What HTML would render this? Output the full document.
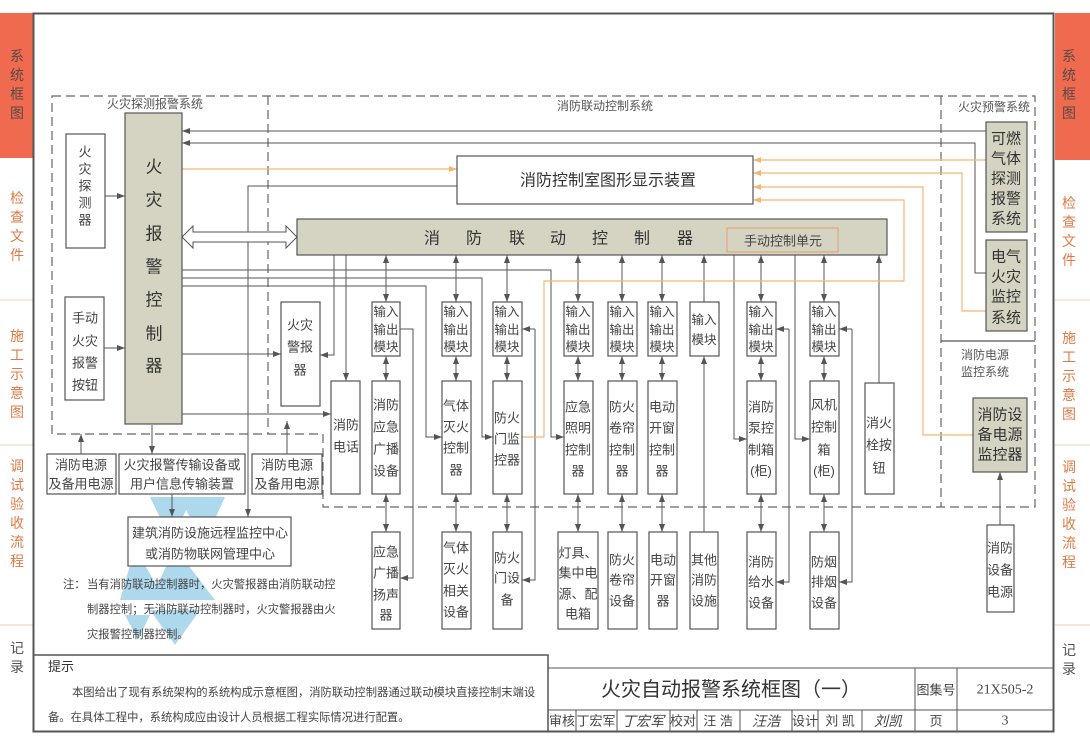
<!DOCTYPE html>
<html><head><meta charset="utf-8"><style>
html,body{margin:0;padding:0;background:#fff;}
svg{display:block;font-family:"Liberation Sans","Noto Sans CJK SC","WenQuanYi Zen Hei",sans-serif;}
.t{font-size:13px;fill:#444;text-anchor:middle;dominant-baseline:central;}
.s{font-size:12px;fill:#555;text-anchor:middle;dominant-baseline:central;}
.b{font-size:16px;fill:#333;text-anchor:middle;dominant-baseline:central;}
.tab{font-size:14px;fill:#e07a45;text-anchor:middle;dominant-baseline:central;}
.g{stroke:#555;stroke-width:1;fill:none;}
.o{stroke:#f2b872;stroke-width:1.2;fill:none;}
.d{stroke:#666;stroke-width:1.2;fill:none;stroke-dasharray:9 5;}
.bx{fill:#fff;stroke:#555;stroke-width:1.2;}
.gb{fill:#d5d4c2;stroke:#555;stroke-width:1.2;}
</style></head><body>
<svg width="1090" height="743" viewBox="0 0 1090 743" xmlns="http://www.w3.org/2000/svg">
<defs>
<marker id="a" viewBox="0 0 8 6" refX="8" refY="3" markerWidth="8" markerHeight="6" markerUnits="userSpaceOnUse" orient="auto-start-reverse"><path d="M0,0 L8,3 L0,6 z" fill="#555"/></marker>
<marker id="ao" viewBox="0 0 8 6" refX="8" refY="3" markerWidth="8" markerHeight="6" markerUnits="userSpaceOnUse" orient="auto-start-reverse"><path d="M0,0 L8,3 L0,6 z" fill="#f2b872"/></marker>
</defs>
<!-- side tabs -->
<rect x="0" y="13" width="33" height="145" fill="#ef6a4f"/>
<rect x="1055" y="13" width="35" height="147" fill="#ef6a4f"/>
<g stroke="#f3d2b5" stroke-width="1">
<line x1="0" y1="300" x2="33" y2="300"/><line x1="0" y1="445" x2="33" y2="445"/><line x1="0" y1="625" x2="33" y2="625"/>
<line x1="1055" y1="300" x2="1090" y2="300"/><line x1="1055" y1="445" x2="1090" y2="445"/><line x1="1055" y1="625" x2="1090" y2="625"/>
</g>
<g class="tab">
<text x="17" y="56" style="fill:#5a4a44">系</text><text x="17" y="75" style="fill:#5a4a44">统</text><text x="17" y="94" style="fill:#5a4a44">框</text><text x="17" y="113" style="fill:#5a4a44">图</text>
<text x="17" y="198">检</text><text x="17" y="217">查</text><text x="17" y="236">文</text><text x="17" y="255">件</text>
<text x="17" y="336">施</text><text x="17" y="355">工</text><text x="17" y="374">示</text><text x="17" y="393">意</text><text x="17" y="412">图</text>
<text x="17" y="466">调</text><text x="17" y="485">试</text><text x="17" y="504">验</text><text x="17" y="523">收</text><text x="17" y="542">流</text><text x="17" y="561">程</text>
<text x="17" y="648" style="fill:#555">记</text><text x="17" y="667" style="fill:#555">录</text>
<text x="1069" y="56" style="fill:#5a4a44">系</text><text x="1069" y="75" style="fill:#5a4a44">统</text><text x="1069" y="94" style="fill:#5a4a44">框</text><text x="1069" y="113" style="fill:#5a4a44">图</text>
<text x="1069" y="203">检</text><text x="1069" y="222">查</text><text x="1069" y="241">文</text><text x="1069" y="260">件</text>
<text x="1069" y="338">施</text><text x="1069" y="357">工</text><text x="1069" y="376">示</text><text x="1069" y="395">意</text><text x="1069" y="414">图</text>
<text x="1069" y="467">调</text><text x="1069" y="486">试</text><text x="1069" y="505">验</text><text x="1069" y="524">收</text><text x="1069" y="543">流</text><text x="1069" y="562">程</text>
<text x="1069" y="650" style="fill:#555">记</text><text x="1069" y="669" style="fill:#555">录</text>
</g>
<!-- frame -->
<rect x="33.5" y="13.5" width="1020" height="718" fill="none" stroke="#555" stroke-width="2"/>

<!-- dashed system boundaries -->
<path class="d" d="M52 96 H1035 V507 H323 V434 H52 Z"/>
<path class="d" d="M268 96 V434"/>
<path class="d" d="M941 96 V507"/>
<line x1="941" y1="341" x2="1035" y2="341" stroke="#555" stroke-width="1.2"/>
<text class="s" x="155" y="104">火灾探测报警系统</text>
<text class="s" x="605" y="106">消防联动控制系统</text>
<text class="s" x="994" y="107">火灾预警系统</text>
<text class="s" x="985" y="355">消防电源</text>
<text class="s" x="985" y="372">监控系统</text>

<!-- watermark -->
<g fill="#5fb3d8" opacity="0.5">
<polygon points="150,497 193,497 171,540"/><polygon points="180,497 225,497 203,545"/>
<polygon points="135,548 165,600 120,600"/><polygon points="175,548 215,600 150,600"/>
<polygon points="150,610 200,610 175,645"/><polygon points="125,615 150,615 138,640"/>
</g>

<!-- gray connectors -->
<g class="g" marker-end="url(#a)">
<path d="M105 196 H125"/>
<path d="M104 348 H125"/>
<path d="M986 131 H182"/>
<path d="M986 273 H975 V143 H182"/>
<path d="M457 186 H248 V517"/>
<path d="M182 270 H551 V437 H564"/>
<path d="M182 278 H482 V437 H493"/>
<path d="M182 286 H426 V437 H442"/>
<path d="M182 354 H281"/>
<path d="M182 414 H331"/>
<path d="M152 425 V454"/>
<path d="M334 255 V355 H320"/>
<path d="M346 255 V381"/>
<path d="M704 532 V356"/>
<path d="M704 302 V255"/>
<path d="M879 383 V255"/>
<path d="M400 329 H413 V578 H400"/>
<path d="M535 329 H522"/>
<path d="M535 329 V580 H522"/>
<path d="M789 329 H776"/>
<path d="M789 329 V582 H776"/>
<path d="M852 329 H839"/>
<path d="M852 329 V582 H839"/>
<path d="M734 252 V439 H747"/>
<path d="M795 252 V439 H810"/>
<path d="M81 454 V434"/>
<path d="M287 454 V421"/>
<path d="M172 494 V517"/>
<path d="M1000 525 V472"/>
</g>
<g class="g" marker-start="url(#a)" marker-end="url(#a)">
<path d="M386 255 V302"/><path d="M456 255 V302"/><path d="M507 255 V302"/><path d="M578 255 V302"/><path d="M622 255 V302"/><path d="M662 255 V302"/><path d="M761 255 V302"/><path d="M824 255 V302"/>
<path d="M386 356 V381"/><path d="M456 356 V381"/><path d="M507 356 V381"/><path d="M578 356 V381"/><path d="M622 356 V381"/><path d="M662 356 V381"/><path d="M761 356 V381"/><path d="M824 356 V381"/>
<path d="M386 494 V532"/><path d="M456 494 V532"/><path d="M507 494 V532"/><path d="M578 494 V532"/><path d="M622 494 V532"/><path d="M662 494 V532"/><path d="M761 494 V532"/><path d="M824 494 V532"/>
</g>
<!-- orange connectors -->
<g class="o" marker-end="url(#ao)">
<path d="M182 169 H457"/>
<path d="M986 160 H753"/>
<path d="M986 311 H962 V173 H753"/>
<path d="M973 435 H923 V187 H753"/>
<path d="M522 437 H544 V281 H904 V200 H753"/>
</g>
<!-- hollow double arrow -->
<polygon points="182,237 193,226 193,232 286,232 286,226 297,237 286,248 286,242 193,242 193,248" fill="#fff" stroke="#555" stroke-width="1"/>

<!-- fire detection -->
<rect class="gb" x="125" y="113" width="57" height="311"/>
<g class="b" style="font-size:17px">
<text x="154" y="167">火</text><text x="154" y="200">灾</text><text x="154" y="234">报</text><text x="154" y="267">警</text><text x="154" y="300">控</text><text x="154" y="334">制</text><text x="154" y="366">器</text>
</g>
<rect class="bx" x="66" y="134" width="39" height="114"/>
<g class="t"><text x="85" y="152">火</text><text x="85" y="169">灾</text><text x="85" y="186">探</text><text x="85" y="203">测</text><text x="85" y="220">器</text></g>
<rect class="bx" x="65" y="297" width="39" height="103"/>
<g class="t"><text x="85" y="318">手动</text><text x="85" y="341">火灾</text><text x="85" y="363">报警</text><text x="85" y="385">按钮</text></g>

<!-- display -->
<rect class="bx" x="457" y="156" width="296" height="48"/>
<text class="b" x="608" y="181">消防控制室图形显示装置</text>
<!-- linkage controller -->
<rect class="gb" x="297" y="219" width="590" height="36"/>
<g class="b"><text x="432" y="239">消</text><text x="474" y="239">防</text><text x="517" y="239">联</text><text x="558" y="239">动</text><text x="600" y="239">控</text><text x="642" y="239">制</text><text x="685" y="239">器</text></g>
<rect x="727" y="228" width="111" height="24" fill="none" stroke="#e3a06a" stroke-width="1"/>
<text class="t" x="783" y="241">手动控制单元</text>

<!-- alarm -->
<rect class="bx" x="281" y="302" width="39" height="104"/>
<g class="t"><text x="300" y="325">火灾</text><text x="300" y="347">警报</text><text x="300" y="370">器</text></g>
<rect class="bx" x="331" y="381" width="29" height="113"/>
<g class="t"><text x="346" y="425">消防</text><text x="346" y="447">电话</text></g>

<!-- modules -->
<g class="bx">
<rect x="372" y="302" width="28" height="54"/><rect x="442" y="302" width="29" height="54"/><rect x="493" y="302" width="29" height="54"/><rect x="564" y="302" width="29" height="54"/><rect x="608" y="302" width="29" height="54"/><rect x="648" y="302" width="29" height="54"/><rect x="690" y="302" width="29" height="54"/><rect x="747" y="302" width="29" height="54"/><rect x="810" y="302" width="29" height="54"/>
</g>
<g class="t" style="font-size:12.5px">
<text x="386" y="312">输入</text><text x="386" y="330">输出</text><text x="386" y="347">模块</text>
<text x="456" y="312">输入</text><text x="456" y="330">输出</text><text x="456" y="347">模块</text>
<text x="507" y="312">输入</text><text x="507" y="330">输出</text><text x="507" y="347">模块</text>
<text x="578" y="312">输入</text><text x="578" y="330">输出</text><text x="578" y="347">模块</text>
<text x="622" y="312">输入</text><text x="622" y="330">输出</text><text x="622" y="347">模块</text>
<text x="662" y="312">输入</text><text x="662" y="330">输出</text><text x="662" y="347">模块</text>
<text x="704" y="320">输入</text><text x="704" y="340">模块</text>
<text x="761" y="312">输入</text><text x="761" y="330">输出</text><text x="761" y="347">模块</text>
<text x="824" y="312">输入</text><text x="824" y="330">输出</text><text x="824" y="347">模块</text>
</g>

<!-- middle row -->
<g class="bx">
<rect x="372" y="381" width="28" height="113"/><rect x="442" y="381" width="29" height="113"/><rect x="493" y="381" width="29" height="113"/><rect x="564" y="381" width="29" height="113"/><rect x="608" y="381" width="29" height="113"/><rect x="648" y="381" width="29" height="113"/><rect x="747" y="381" width="29" height="113"/><rect x="810" y="381" width="29" height="113"/><rect x="865" y="383" width="29" height="111"/>
</g>
<g class="t">
<text x="386" y="405">消防</text><text x="386" y="427">应急</text><text x="386" y="449">广播</text><text x="386" y="471">设备</text>
<text x="456" y="406">气体</text><text x="456" y="427">灭火</text><text x="456" y="448">控制</text><text x="456" y="470">器</text>
<text x="507" y="418">防火</text><text x="507" y="439">门监</text><text x="507" y="460">控器</text>
<text x="578" y="407">应急</text><text x="578" y="428">照明</text><text x="578" y="450">控制</text><text x="578" y="471">器</text>
<text x="622" y="407">防火</text><text x="622" y="428">卷帘</text><text x="622" y="450">控制</text><text x="622" y="471">器</text>
<text x="662" y="407">电动</text><text x="662" y="428">开窗</text><text x="662" y="450">控制</text><text x="662" y="471">器</text>
<text x="761" y="407">消防</text><text x="761" y="428">泵控</text><text x="761" y="450">制箱</text><text x="761" y="471">(柜)</text>
<text x="824" y="405">风机</text><text x="824" y="427">控制</text><text x="824" y="450">箱</text><text x="824" y="471">(柜)</text>
<text x="879" y="423">消火</text><text x="879" y="445">栓按</text><text x="879" y="468">钮</text>
</g>

<!-- bottom row -->
<g class="bx">
<rect x="372" y="532" width="28" height="97"/><rect x="442" y="532" width="29" height="97"/><rect x="493" y="532" width="29" height="97"/><rect x="558" y="532" width="40" height="97"/><rect x="608" y="532" width="29" height="97"/><rect x="649" y="532" width="28" height="97"/><rect x="690" y="532" width="28" height="97"/><rect x="747" y="532" width="29" height="97"/><rect x="810" y="532" width="29" height="97"/><rect x="987" y="525" width="27" height="87"/>
</g>
<g class="t">
<text x="386" y="552">应急</text><text x="386" y="573">广播</text><text x="386" y="595">扬声</text><text x="386" y="615">器</text>
<text x="456" y="548">气体</text><text x="456" y="569">灭火</text><text x="456" y="591">相关</text><text x="456" y="612">设备</text>
<text x="507" y="558">防火</text><text x="507" y="578">门设</text><text x="507" y="600">备</text>
<text x="578" y="553">灯具、</text><text x="578" y="573">集中电</text><text x="578" y="594">源、配</text><text x="578" y="614">电箱</text>
<text x="622" y="560">防火</text><text x="622" y="580">卷帘</text><text x="622" y="601">设备</text>
<text x="663" y="560">电动</text><text x="663" y="580">开窗</text><text x="663" y="601">器</text>
<text x="704" y="560">其他</text><text x="704" y="580">消防</text><text x="704" y="601">设施</text>
<text x="761" y="562">消防</text><text x="761" y="582">给水</text><text x="761" y="603">设备</text>
<text x="824" y="562">防烟</text><text x="824" y="582">排烟</text><text x="824" y="603">设备</text>
<text x="1000" y="548">消防</text><text x="1000" y="570">设备</text><text x="1000" y="592">电源</text>
</g>

<!-- fire warning -->
<rect class="gb" x="986" y="122" width="41" height="110"/>
<rect class="gb" x="986" y="240" width="41" height="91"/>
<rect class="gb" x="973" y="398" width="54" height="74"/>
<g class="b" style="font-size:15px">
<text x="1006" y="139">可燃</text><text x="1006" y="159">气体</text><text x="1006" y="179">探测</text><text x="1006" y="199">报警</text><text x="1006" y="219">系统</text>
<text x="1006" y="257">电气</text><text x="1006" y="277">火灾</text><text x="1006" y="297">监控</text><text x="1006" y="318">系统</text>
<text x="1000" y="415">消防设</text><text x="1000" y="435">备电源</text><text x="1000" y="455">监控器</text>
</g>

<!-- bottom-left boxes -->
<rect class="bx" x="47" y="454" width="69" height="40"/>
<rect class="bx" x="119" y="454" width="126" height="40"/>
<rect class="bx" x="252" y="454" width="70" height="40"/>
<rect class="bx" x="128" y="517" width="163" height="49"/>
<g class="t">
<text x="81" y="465">消防电源</text><text x="81" y="484">及备用电源</text>
<text x="182" y="465">火灾报警传输设备或</text><text x="182" y="484">用户信息传输装置</text>
<text x="287" y="465">消防电源</text><text x="287" y="484">及备用电源</text>
<text x="210" y="533">建筑消防设施远程监控中心</text><text x="210" y="554">或消防物联网管理中心</text>
</g>
<g style="font-size:11.3px;fill:#444">
<text x="63" y="588">注：</text>
<text x="87" y="588">当有消防联动控制器时，火灾警报器由消防联动控</text>
<text x="87" y="613">制器控制；无消防联动控制器时，火灾警报器由火</text>
<text x="87" y="638">灾报警控制器控制。</text>
</g>

<!-- hint box -->
<path d="M33 655 H548 V731" stroke="#555" stroke-width="1.5" fill="none"/>
<text x="48" y="671" style="font-size:13px;fill:#333">提示</text>
<text x="72" y="696" style="font-size:11.3px;fill:#444">本图给出了现有系统架构的系统构成示意框图，消防联动控制器通过联动模块直接控制末端设</text>
<text x="48" y="721" style="font-size:11.3px;fill:#444">备。在具体工程中，系统构成应由设计人员根据工程实际情况进行配置。</text>

<!-- title block -->
<g stroke="#555" stroke-width="1" fill="none">
<path d="M548 668 H1053"/><path d="M548 710 H1053"/>
<path d="M915 668 V731"/><path d="M957 668 V731"/>
<path d="M576 710 V731"/><path d="M617 710 V731"/><path d="M670 710 V731"/><path d="M697 710 V731"/><path d="M740 710 V731"/><path d="M792 710 V731"/><path d="M818 710 V731"/><path d="M862 710 V731"/>
</g>
<text x="731" y="690" style="font-size:20px;fill:#333;text-anchor:middle;dominant-baseline:central">火灾自动报警系统框图（一）</text>
<g class="t">
<text x="936" y="690">图集号</text><text x="1005" y="690" style="font-family:'Liberation Serif',serif;font-size:14px">21X505-2</text>
<text x="562" y="721">审核</text><text x="596" y="721">丁宏军</text><text x="643" y="721" style="font-style:italic;font-size:14px">丁宏军</text>
<text x="683" y="721">校对</text><text x="718" y="721">汪 浩</text><text x="766" y="721" style="font-style:italic;font-size:14px">汪浩</text>
<text x="805" y="721">设计</text><text x="840" y="721">刘 凯</text><text x="888" y="721" style="font-style:italic;font-size:14px">刘凯</text>
<text x="936" y="721">页</text><text x="1005" y="721" style="font-family:'Liberation Serif',serif;font-size:14px">3</text>
</g>
</svg>
</body></html>
